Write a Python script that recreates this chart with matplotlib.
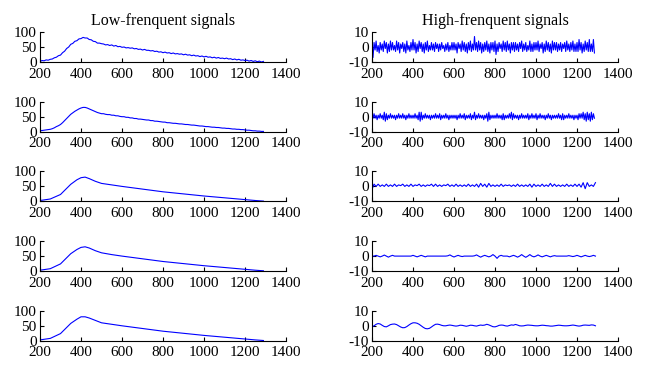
import numpy as np
import matplotlib
matplotlib.use("Agg")
import matplotlib.pyplot as plt

plt.rcParams['font.family'] = ['Liberation Serif', 'DejaVu Serif']
plt.rcParams['axes.unicode_minus'] = False

# low-frequency approximations (step 10 from 200)
low1 = [2, 5, 4, 7, 6, 9, 10, 14, 16, 21,
        23, 31, 36, 45, 50, 59, 62, 69, 71, 77,
        78, 82, 80, 80, 75, 74, 69, 68, 63, 63,
        61, 60, 57, 58, 55, 57, 53, 55, 51, 52,
        49, 50, 47, 48, 46, 47, 44, 45, 42, 43,
        40, 42, 39, 39, 37, 38, 35, 36, 33, 34,
        31, 33, 30, 31, 28, 30, 27, 28, 26, 27,
        24, 26, 23, 24, 21, 23, 20, 21, 18, 20,
        17, 19, 16, 17, 14, 16, 13, 15, 12, 13,
        11, 13, 10, 11, 8, 10, 7, 9, 6, 7,
        5, 6, 3, 5, 2, 4, 1, 3, 0, 2]
low2 = [3, 4, 5, 6, 7, 8, 10, 13, 17, 20,
        24, 30, 37, 44, 51, 58, 63, 68, 72, 76,
        79, 81, 81, 79, 76, 73, 70, 67, 64, 62,
        60, 60, 58, 57, 57, 55, 55, 53, 53, 51,
        50, 50, 48, 48, 46, 46, 44, 44, 42, 42,
        41, 40, 39, 39, 37, 37, 35, 35, 34, 33,
        32, 32, 30, 30, 29, 28, 28, 27, 26, 26,
        25, 24, 24, 23, 22, 22, 21, 20, 19, 19,
        18, 17, 17, 16, 15, 15, 14, 14, 13, 12,
        12, 11, 11, 10, 9, 9, 8, 8, 7, 7,
        6, 5, 5, 4, 3, 3, 2, 2, 1, 1]

# smoother approximations, sparse points
low_x = [200, 250, 300, 350, 380, 400, 420, 440, 470, 500, 550, 600,
         700, 800, 900, 1000, 1100, 1200, 1250, 1290]
low3 = [3, 8, 23, 57, 72, 79, 81, 76, 67, 60, 55, 50, 41, 32, 25, 18, 12, 6, 3, 1]
low4 = [3, 8, 24, 58, 72, 79, 81, 77, 68, 61, 55, 50, 41, 32, 25, 18, 12, 6, 3, 1]
low5 = [3, 8, 24, 58, 72, 80, 80, 76, 68, 60, 55, 50, 41, 32, 25, 18, 12, 6, 3, 1]

# high-frequency details, step 5 from 200
high1 = [2, -7, 3, -2, 4, -3, 1, -4, 3, -2, 2, -3, 4, -1, 3, -4, 2, -3, 4, -2,
         3, -2, 1, -3, 4, -2, 3, -4, 2, -1, 3, -3, 2, -4, 4, -2, 1, -3, 3, -2,
         5, -2, 3, -4, 2, -3, 4, -1, 3, -3, 2, -4, 3, -2, 4, -3, 1, -2, 3, -2,
         2, -3, 3, -1, 2, -3, 2, -2, 3, -1, 1, -3, 2, -2, 3, -3, 1, -2, 3, -2,
         3, -2, 2, -4, 3, -1, 2, -3, 4, -2, 3, -3, 2, -4, 3, -2, 4, -3, 2, -2,
         7, -2, 3, -3, 4, -2, 3, -4, 2, -3, 3, -2, 4, -3, 2, -4, 3, -2, 3, -3,
         4, -5, 2, -3, 3, -1, 2, -3, 4, -2, 3, -3, 4, -2, 2, -4, 3, -2, 3, -3,
         3, -2, 2, -3, 3, -1, 4, -3, 2, -2, 3, -3, 1, -2, 4, -3, 2, -3, 3, -2,
         3, -2, 4, -3, 2, -1, 3, -4, 2, -3, 4, -2, 3, -3, 2, -4, 4, -2, 3, -2,
         3, -3, 2, -2, 3, -3, 2, -1, 3, -3, 4, -2, 2, -3, 3, -2, 4, -3, 2, -3,
         3, -3, 5, -2, 3, -4, 2, -3, 4, -2, 3, -3, 5, -3, 2, -3, 5, -4]
high2 = [1, -1, 2, -1, 1, -2, 1, -1, 2, -1, 1, -2, 3, -3, 2, -2, 1, -1, 2, -1,
         1, -1, 1, -2, 1, -1, 2, -1, 1, -1, 2, -1, 1, -2, 1, -1, 2, -1, 1, -1,
         1, -1, 2, -1, 1, -2, 3, -3, 3, -2, 1, -1, 2, -1, 1, -1, 1, -2, 1, -1,
         1, -1, 2, -1, 1, -1, 2, -2, 1, -1, 1, -1, 2, -1, 1, -2, 1, -1, 1, -1,
         1, -1, 1, -2, 1, -1, 2, -1, 1, -1, 2, -2, 1, -1, 1, -1, 2, -2, 1, -1,
         3, -2, 1, -1, 2, -1, 1, -1, 1, -2, 1, -1, 2, -3, 3, -2, 1, -1, 1, -1,
         1, -1, 2, -1, 1, -1, 1, -2, 2, -2, 1, -1, 1, -1, 2, -1, 3, -2, 2, -1,
         1, -1, 1, -2, 1, -1, 2, -1, 1, -1, 1, -1, 2, -2, 1, -1, 2, -1, 1, -1,
         2, -2, 1, -1, 2, -1, 1, -1, 1, -2, 1, -1, 2, -1, 1, -2, 1, -1, 1, -1,
         1, -1, 2, -1, 1, -2, 2, -2, 1, -1, 1, -1, 2, -1, 1, -1, 1, -2, 1, -1,
         1, -2, 2, -1, 2, -1, 3, -2, 2, -3, 3, -2, 2, -3, 3, -2, 2, -1]
# step 10 from 200
high3 = [-2, 1.5, 0, 1.5, 0, 1, 0, 1.5, 0, 1,
         0, 1.5, 0, 1, 0.5, 1.5, 0, 1, 0, 1.5,
         0, 1, 0.5, 1.5, 0, 1, 0, 1, 0.5, 1.5,
         0, 1.5, 0, 1, 0, 1, 0.5, 1.5, 0, 1,
         0, 1.5, 0, 1, 0, 1, 0, 1.5, 0, 1,
         0, 1.5, -0.5, 2, 0, 1.5, -0.5, 2, 0, 1,
         0, 1, 0, 1.5, 0, 1, 0.5, 1, 0, 1,
         0, 1.5, 0, 1, 0, 1, 0, 1.5, -0.5, 1.5,
         0, 1, 0, 1.5, 0, 1, 0, 2, 0, 1.5,
         0, 1, 0, 1, 0, 1.5, 0, 1, 0, 1.5,
         0, 1.5, -0.5, 2.5, -1.5, 2.5, 0, 1, 0, 2.5]
high4 = [0, 0, 0.5, 0, -0.5, 0, 0.7, 0, -0.7, 0,
         0.5, 0, 0, 0, 0, 0, 0, 0, 0, 0,
         0.5, 0, -0.5, 0, 0.5, 0, -0.5, 0, 0, 0,
         0, 0, 0, 0, 0, 0, 0, 0.2, 0.8, 0,
         -0.6, 0, 0.5, 0, -0.3, 0, 0, 0, 0, 0,
         0.2, 0.8, 0, -0.7, 0, 0.5, 0, -0.5, 0, 1,
         0, -1.5, 0, 0.5, 0, 0, 0, -0.5, 0, 0.5,
         0, -0.7, 0, 1, 0, -0.8, 0, 1, 0, -0.5,
         0, 0.8, 0, -0.5, 0, 0.5, 0, -0.5, 0, 0.3,
         0, 0, 0, 0, 0, 0, 0.3, 0, -0.3, 0,
         0.5, 0, -0.5, 0, 0.5, 0, -0.3, 0, 0.5, 0]
high5 = [-0.7, 0, 1, 1.5, 1.2, 0.3, -0.5, -0.7, 0, 0.8,
         1.1, 1.2, 0.8, 0, -0.8, -1.3, -1.2, -0.5, 0.5, 1.4,
         2, 2, 1.7, 1, 0, -1, -1.8, -2, -1.7, -0.8,
         0.2, 1, 1.1, 0.8, 0.3, 0, 0, 0.3, 0.5, 0.3,
         0, -0.2, 0, 0.4, 0.3, 0, -0.3, 0, 0.4, 0.3,
         0, -0.2, 0.2, 0.5, 0.3, 0.5, 1, 0.6, 0, -0.6,
         -0.7, -0.3, 0.3, 0.5, 0.4, 0, -0.2, 0.2, 0.6, 0.4,
         0.9, 0.5, 0, -0.1, 0, 0.3, 0.5, 0.4, 0.3, 0.1,
         0, 0, 0.2, 0.4, 0.3, 0.1, 0, -0.2, -0.2, 0,
         0.2, 0.4, 0.3, 0.1, 0, 0, 0.1, 0.3, 0.5, 0.3,
         0, -0.2, 0, 0.4, 0.5, 0.4, 0.3, 0.6, 0.5, 0]

titles = ['Low-frenquent signals', 'High-frenquent signals']
xticks = [200, 400, 600, 800, 1000, 1200, 1400]
low_yticks = [0, 50, 100]
high_yticks = [-10, 0, 10]


def step_x(y, step=10):
    return 200 + step * np.arange(len(y))


low_series = [(step_x(low1), low1), (step_x(low2), low2),
              (low_x, low3), (low_x, low4), (low_x, low5)]
high_series = [(step_x(high1, 5), high1), (step_x(high2, 5), high2),
               (step_x(high3), high3), (step_x(high4), high4),
               (step_x(high5), high5)]

W, H = 646, 366
fig = plt.figure(figsize=(W / 100, H / 100), dpi=100)

col_left = [40, 372]
ax_w = 246
ax_h = 30
row_bottom0 = 62
row_step = 69.7


def style(ax, ylim, yticks):
    ax.set_xlim(200, 1400)
    ax.set_ylim(*ylim)
    ax.set_xticks(xticks)
    ax.set_yticks(yticks)
    ax.spines['top'].set_visible(False)
    ax.spines['right'].set_visible(False)
    ax.spines['left'].set_linewidth(0.8)
    ax.spines['bottom'].set_linewidth(0.8)
    ax.tick_params(direction='in', length=3, width=0.8, labelsize=11)
    ax.tick_params(axis='x', pad=4)
    ax.tick_params(axis='y', pad=2.5)


for i in range(5):
    yb = row_bottom0 + row_step * i
    bottom = 1 - yb / H
    axl = fig.add_axes([col_left[0] / W, bottom, ax_w / W, ax_h / H])
    x, y = low_series[i]
    axl.plot(x, y, color='blue', lw=0.8)
    style(axl, (0, 100), low_yticks)

    axr = fig.add_axes([col_left[1] / W, bottom, ax_w / W, ax_h / H])
    x, y = high_series[i]
    axr.plot(x, y, color='blue', lw=0.8)
    style(axr, (-10, 10), high_yticks)

    if i == 0:
        axl.set_title(titles[0], fontsize=11.5, pad=5)
        axr.set_title(titles[1], fontsize=11.5, pad=5)

fig.savefig('out.png', dpi=100)
